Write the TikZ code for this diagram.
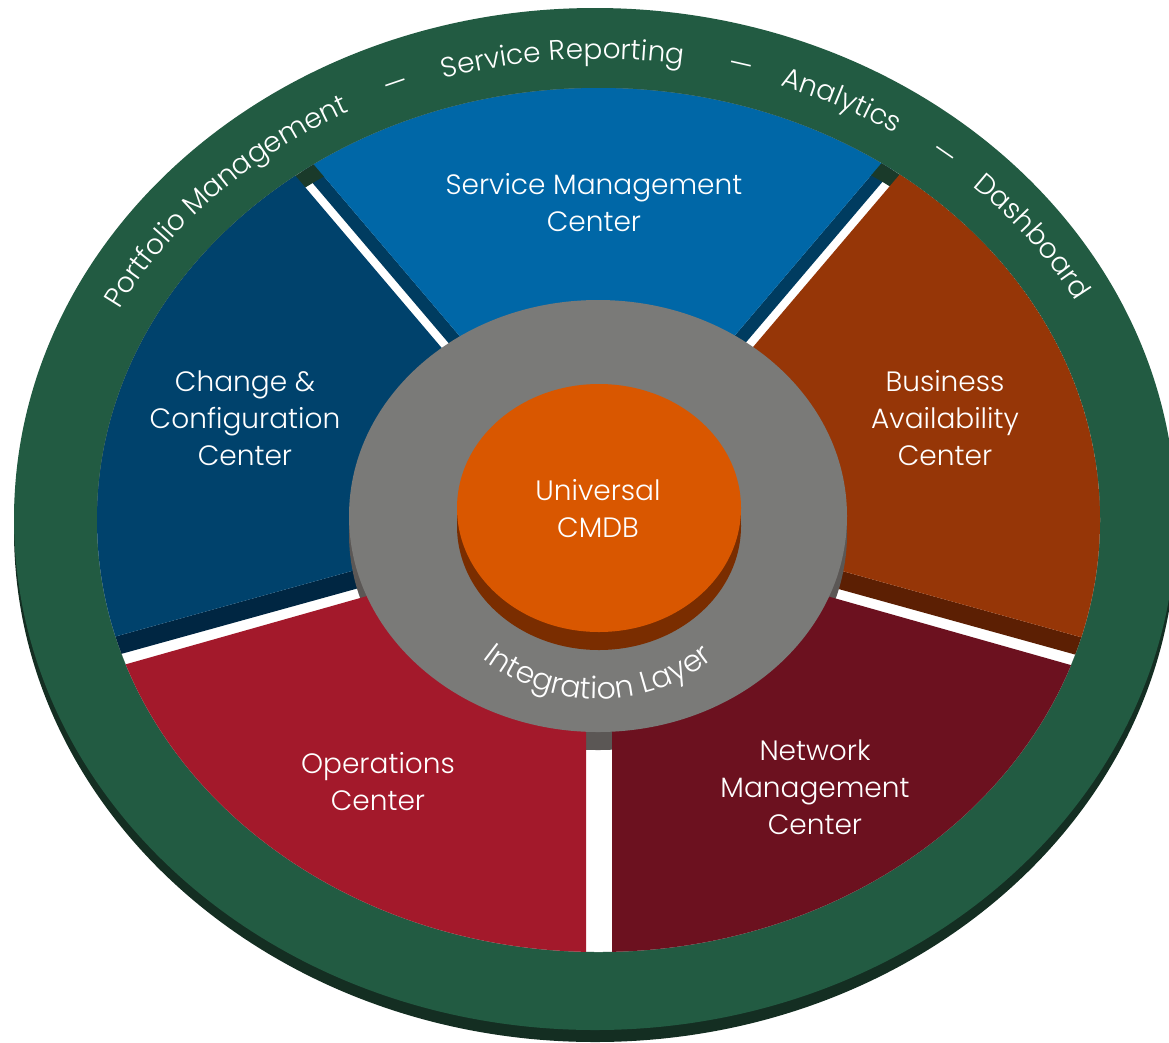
\documentclass[tikz,border=0pt]{standalone}
\usepackage{fontspec}
\setmainfont{Poppins}[UprightFont={* Light}]
\usetikzlibrary{decorations.text}
\definecolor{ringgreen}{RGB}{34,91,66}
\definecolor{ringshadow}{RGB}{20,46,34}
\definecolor{ringwall}{RGB}{26,58,42}
\definecolor{smface}{RGB}{0,103,167}
\definecolor{smside}{RGB}{0,60,96}
\definecolor{ccface}{RGB}{0,66,108}
\definecolor{ccside}{RGB}{0,38,66}
\definecolor{baface}{RGB}{150,54,7}
\definecolor{baside}{RGB}{92,31,3}
\definecolor{opface}{RGB}{163,25,43}
\definecolor{nmface}{RGB}{108,17,31}
\definecolor{layergray}{RGB}{122,122,120}
\definecolor{layerside}{RGB}{91,87,85}
\definecolor{cmdbface}{RGB}{217,87,0}
\definecolor{cmdbside}{RGB}{122,45,0}
\newcommand\lblfont{\fontsize{28}{37}\selectfont}
\newcommand\ringfont{\fontsize{28}{32}\selectfont}
\newcommand\intfont{\fontsize{30}{32}\selectfont}
\begin{document}
\begin{tikzpicture}[x=1pt,y=-1pt,
  lbl/.style={text=white,font=\lblfont,align=center,inner sep=0pt},
  ringtxt/.style={decorate,decoration={text along path,text align=center,
     text={|\ringfont\color{white}|#1}}},
  inttxt/.style={decorate,decoration={text along path,text align=center,
     text={|\intfont\color{white}|#1}}}]
\useasboundingbox (0,0) rectangle (1169,1042);
% outer ring with its shadowed rim
\fill[ringshadow] (595,531) ellipse [x radius=581,y radius=511];
\fill[ringgreen] (595,519) ellipse [x radius=581,y radius=511];
% segments
\begin{scope}
\clip (598.5,520) ellipse [x radius=501.5,y radius=432];
\fill[white] (0,0) rectangle (1169,1042);
% side faces (strips)
\fill[smside] (157,0) -- (497,400) -- (514,400) -- (174,0) -- cycle;
\fill[smside] (1037,0) -- (697,400) -- (680,400) -- (1020,0) -- cycle;
\fill[ccside] (0,668.5) -- (450,543.8) -- (450,562.8) -- (0,687.5) -- cycle;
\fill[baside] (1194,668.5) -- (744,543.8) -- (744,562.8) -- (1194,687.5) -- cycle;
% inner wall of the ring
\fill[ringwall,even odd rule] (598.5,520) ellipse [x radius=501.5,y radius=432]
  (598.5,538) ellipse [x radius=501.5,y radius=432];
% top faces
\fill[smface] (174,0) -- (514,400) -- (680,400) -- (1020,0) -- cycle;
\fill[ccface] (0,0) -- (146,0) -- (486,400) -- (450,543.8) -- (0,668.5) -- cycle;
\fill[baface] (1194,0) -- (1048,0) -- (708,400) -- (744,543.8) -- (1194,668.5) -- cycle;
% side of the integration layer
\fill[layerside] (598,534) ellipse [x radius=249,y radius=216];
\fill[opface] (0,699.9) -- (586,534.1) -- (586,1042) -- (0,1042) -- cycle;
\fill[nmface] (612,535.2) -- (1194,699.9) -- (1194,1042) -- (612,1042) -- cycle;
\end{scope}
% integration layer
\fill[layergray] (598,516) ellipse [x radius=249,y radius=216];
% CMDB cylinder
\fill[cmdbside] (599,526) ellipse [x radius=142,y radius=124];
\fill[cmdbside] (457,508) rectangle (741,526);
\fill[cmdbface] (599,508) ellipse [x radius=142,y radius=124];
% labels
\node[lbl] (sm) at (594,203) {Service Management\\Center};
\node[lbl] (cc) at (245,418) {Change \&\\Configuration\\Center};
\node[lbl] (ba) at (945,418) {Business\\Availability\\Center};
\node[lbl] (op) at (378,782) {Operations\\Center};
\node[lbl] (nm) at (815,787) {Network\\Management\\Center};
\node[lbl] (cmdb) at (598,509) {Universal\\CMDB};
% curved texts
\path[shift={(598,513)},inttxt={Integration Layer}] (160:186) arc[start angle=160,end angle=20,radius=186];
\path[shift={(600,520)},ringtxt={Portfolio Management}] (202:540 and 461) arc[start angle=202,end angle=247,x radius=540,y radius=461];
\path[shift={(600,520)},ringtxt={—}] (238:540 and 461) arc[start angle=238,end angle=258,x radius=540,y radius=461];
\path[shift={(600,520)},ringtxt={Service Reporting}] (246:540 and 461) arc[start angle=246,end angle=286,x radius=540,y radius=461];
\path[shift={(600,520)},ringtxt={—}] (275:540 and 461) arc[start angle=275,end angle=295,x radius=540,y radius=461];
\path[shift={(600,520)},ringtxt={Analytics}] (281:540 and 461) arc[start angle=281,end angle=312,x radius=540,y radius=461];
\path[shift={(600,520)},ringtxt={—}] (299:540 and 461) arc[start angle=299,end angle=319,x radius=540,y radius=461];
\path[shift={(600,520)},ringtxt={Dashboard}] (305:540 and 461) arc[start angle=305,end angle=341,x radius=540,y radius=461];
\end{tikzpicture}
\end{document}
